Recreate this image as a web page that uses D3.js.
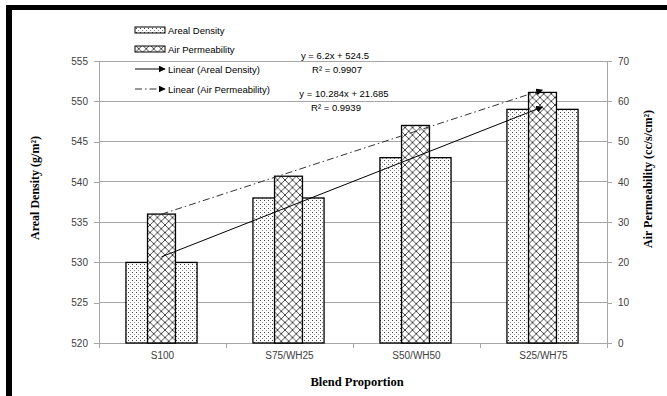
<!DOCTYPE html>
<html>
<head>
<meta charset="utf-8">
<script src="https://cdn.jsdelivr.net/npm/d3@7"></script>
<style>
  html, body { margin: 0; padding: 0; background: #fff; }
  svg { display: block; }
</style>
</head>
<body>
<svg id="chart" width="667" height="396"></svg>
<script>
// Blend categories and measured values
const categories = ["S100", "S75/WH25", "S50/WH50", "S25/WH75"];
const arealDensity = [530, 538, 543, 549];        // g/m², left axis
const airPermeability = [32, 41.4, 54, 62.2];     // cc/s/cm², right axis
const leftTicks = [520, 525, 530, 535, 540, 545, 550, 555];
const rightTicks = [0, 10, 20, 30, 40, 50, 60, 70];
// Linear trend fits (x = 1..4)
const fitAreal = { slope: 6.2, intercept: 524.5, r2: "0.9907" };
const fitAir = { slope: 10.284, intercept: 21.685, r2: "0.9939" };
const legendLabels = ["Areal Density", "Air Permeability", "Linear (Areal Density)", "Linear (Air Permeability)"];

const svg = d3.select("#chart");
const W = 667, H = 396;
const plot = { left: 99, right: 607, top: 61, bottom: 343 };
const labelFont = "'Liberation Sans', Arial, sans-serif";
const titleFont = "'Liberation Serif', 'Times New Roman', serif";
const gridColor = "#a6a6a6";
const textColor = "#404040";

// Frame along the top and left edges
svg.append("rect").attr("x", 6).attr("y", 5).attr("width", W - 6).attr("height", 5).attr("fill", "#000");
svg.append("rect").attr("x", 6).attr("y", 5).attr("width", 6).attr("height", H - 5).attr("fill", "#000");

// Fill patterns
const defs = svg.append("defs");
const dots = defs.append("pattern").attr("id", "dots")
  .attr("patternUnits", "userSpaceOnUse").attr("width", 4).attr("height", 4);
dots.append("rect").attr("width", 4).attr("height", 4).attr("fill", "#fff");
dots.append("rect").attr("x", 0).attr("y", 0).attr("width", 1).attr("height", 1).attr("fill", "#444");
dots.append("rect").attr("x", 2).attr("y", 2).attr("width", 1).attr("height", 1).attr("fill", "#888");

const hatchSize = 7.5;
const hatch = defs.append("pattern").attr("id", "hatch")
  .attr("patternUnits", "userSpaceOnUse").attr("width", hatchSize).attr("height", hatchSize);
hatch.append("rect").attr("width", hatchSize).attr("height", hatchSize).attr("fill", "#fff");
hatch.append("path")
  .attr("d", `M0,0L${hatchSize},${hatchSize}M${hatchSize},0L0,${hatchSize}`)
  .attr("stroke", "#333").attr("stroke-width", 0.9);

const arrow = defs.append("marker").attr("id", "arrow")
  .attr("viewBox", "0 0 10 10").attr("refX", 9).attr("refY", 5)
  .attr("markerWidth", 7).attr("markerHeight", 7)
  .attr("markerUnits", "userSpaceOnUse").attr("orient", "auto");
arrow.append("path").attr("d", "M0,0L10,5L0,10Z").attr("fill", "#000");

// Scales
const x = d3.scaleBand().domain(categories).range([plot.left, plot.right]);
const yL = d3.scaleLinear().domain([520, 555]).range([plot.bottom, plot.top]);
const yR = d3.scaleLinear().domain([0, 70]).range([plot.bottom, plot.top]);

// Horizontal gridlines
svg.append("g").selectAll("line").data(leftTicks.slice(1)).join("line")
  .attr("x1", plot.left).attr("x2", plot.right)
  .attr("y1", d => yL(d)).attr("y2", d => yL(d))
  .attr("stroke", gridColor).attr("stroke-width", 1).attr("shape-rendering", "crispEdges");

// Axes
function styleAxis(g) {
  g.selectAll(".domain").attr("stroke", gridColor).attr("shape-rendering", "crispEdges");
  g.selectAll(".tick line").attr("stroke", gridColor).attr("shape-rendering", "crispEdges");
  g.selectAll(".tick text").attr("fill", textColor).attr("font-family", labelFont).attr("font-size", 10);
}
svg.append("g").attr("transform", `translate(${plot.left},0)`)
  .call(d3.axisLeft(yL).tickValues(leftTicks).tickSize(5).tickPadding(6).tickSizeOuter(0))
  .call(styleAxis);
svg.append("g").attr("transform", `translate(${plot.right},0)`)
  .call(d3.axisRight(yR).tickValues(rightTicks).tickSize(5).tickPadding(6).tickSizeOuter(0))
  .call(styleAxis);

// Category axis with ticks between groups
const xAxis = svg.append("g").attr("transform", `translate(0,${plot.bottom})`);
xAxis.append("line").attr("x1", plot.left).attr("x2", plot.right).attr("y1", 0).attr("y2", 0)
  .attr("stroke", gridColor).attr("shape-rendering", "crispEdges");
const boundaries = categories.map(c => x(c)).concat([plot.right]);
xAxis.selectAll("line.sep").data(boundaries).join("line").attr("class", "sep")
  .attr("x1", d => d).attr("x2", d => d).attr("y1", 0).attr("y2", 5)
  .attr("stroke", gridColor).attr("shape-rendering", "crispEdges");
xAxis.selectAll("text").data(categories).join("text")
  .attr("x", d => x(d) + x.bandwidth() / 2).attr("y", 16)
  .attr("text-anchor", "middle").attr("fill", textColor)
  .attr("font-family", labelFont).attr("font-size", 10).text(d => d);

// Bars
const center = c => x(c) + x.bandwidth() / 2 - 1;
const wideW = x.bandwidth() * 0.56;
const narrowW = x.bandwidth() * 0.22;
svg.append("g").selectAll("rect").data(categories).join("rect")
  .attr("x", c => center(c) - wideW / 2).attr("width", wideW)
  .attr("y", (c, i) => yL(arealDensity[i])).attr("height", (c, i) => plot.bottom - yL(arealDensity[i]))
  .attr("fill", "url(#dots)").attr("stroke", "#000").attr("stroke-width", 1.3);
svg.append("g").selectAll("rect").data(categories).join("rect")
  .attr("x", c => center(c) - narrowW / 2).attr("width", narrowW)
  .attr("y", (c, i) => yR(airPermeability[i])).attr("height", (c, i) => plot.bottom - yR(airPermeability[i]))
  .attr("fill", "url(#hatch)").attr("stroke", "#000").attr("stroke-width", 1.3);

// Trend lines
const first = categories[0], last = categories[categories.length - 1];
const n = categories.length;
svg.append("line")
  .attr("x1", center(first)).attr("y1", yL(fitAreal.slope * 1 + fitAreal.intercept))
  .attr("x2", center(last)).attr("y2", yL(fitAreal.slope * n + fitAreal.intercept))
  .attr("stroke", "#000").attr("stroke-width", 1).attr("marker-end", "url(#arrow)");
svg.append("line")
  .attr("x1", center(first)).attr("y1", yR(fitAir.slope * 1 + fitAir.intercept))
  .attr("x2", center(last)).attr("y2", yR(fitAir.slope * n + fitAir.intercept))
  .attr("stroke", "#333").attr("stroke-width", 1)
  .attr("stroke-dasharray", "7,3,1.5,3").attr("marker-end", "url(#arrow)");

// Trend equations
const eq = svg.append("g").attr("font-family", labelFont).attr("font-size", 9.5)
  .attr("fill", "#000").attr("text-anchor", "middle");
eq.append("text").attr("x", 335).attr("y", 59).text(`y = ${fitAreal.slope}x + ${fitAreal.intercept}`);
eq.append("text").attr("x", 337).attr("y", 73).text(`R² = ${fitAreal.r2}`);
eq.append("text").attr("x", 344).attr("y", 97).text(`y = ${fitAir.slope}x + ${fitAir.intercept}`);
eq.append("text").attr("x", 336).attr("y", 111).text(`R² = ${fitAir.r2}`);

// Legend
const lg = svg.append("g").attr("font-family", labelFont).attr("font-size", 9.5).attr("fill", "#000");
const legendY = [30, 49, 69, 89];
lg.append("rect").attr("x", 135).attr("y", legendY[0] - 3).attr("width", 30).attr("height", 6)
  .attr("fill", "url(#dots)").attr("stroke", "#000").attr("stroke-width", 1);
lg.append("rect").attr("x", 135).attr("y", legendY[1] - 3).attr("width", 30).attr("height", 6)
  .attr("fill", "url(#hatch)").attr("stroke", "#000").attr("stroke-width", 1);
lg.append("line").attr("x1", 135).attr("x2", 165).attr("y1", legendY[2]).attr("y2", legendY[2])
  .attr("stroke", "#000").attr("marker-end", "url(#arrow)");
lg.append("line").attr("x1", 135).attr("x2", 165).attr("y1", legendY[3]).attr("y2", legendY[3])
  .attr("stroke", "#333").attr("stroke-dasharray", "7,3,1.5,3").attr("marker-end", "url(#arrow)");
lg.selectAll("text").data(legendLabels).join("text")
  .attr("x", 168).attr("y", (d, i) => legendY[i] + 3.5).text(d => d);

// Axis titles
svg.append("text").attr("transform", "translate(39,188) rotate(-90)")
  .attr("text-anchor", "middle").attr("font-family", titleFont).attr("font-weight", "bold")
  .attr("font-size", 12).attr("fill", "#000").text("Areal Density (g/m²)");
svg.append("text").attr("transform", "translate(652,179) rotate(-90)")
  .attr("text-anchor", "middle").attr("font-family", titleFont).attr("font-weight", "bold")
  .attr("font-size", 12).attr("fill", "#000").text("Air Permeability (cc/s/cm²)");
svg.append("text").attr("x", 357).attr("y", 386)
  .attr("text-anchor", "middle").attr("font-family", titleFont).attr("font-weight", "bold")
  .attr("font-size", 12.5).attr("fill", "#000").text("Blend Proportion");
</script>
</body>
</html>
